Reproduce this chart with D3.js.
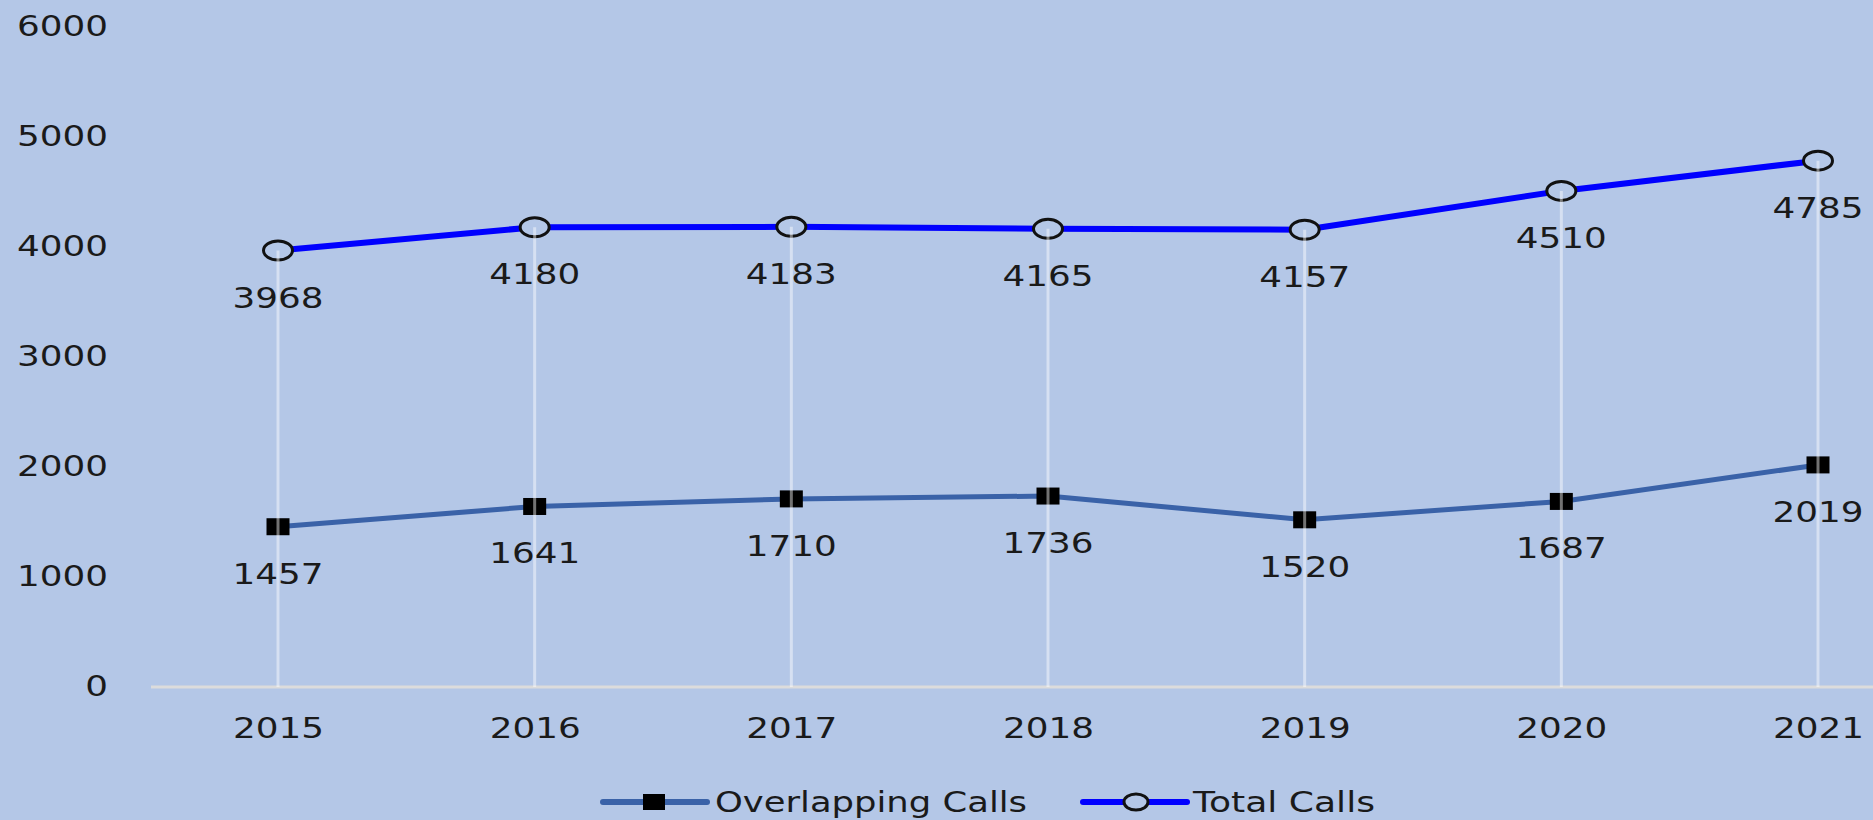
<!DOCTYPE html>
<html>
<head>
<meta charset="utf-8">
<script src="https://cdn.jsdelivr.net/npm/d3@7"></script>
<style>
  html, body { margin: 0; padding: 0; background: #b4c7e7; }
  svg { display: block; }
</style>
</head>
<body>
<div id="chart"></div>
<script>
// data
var years = ['2015', '2016', '2017', '2018', '2019', '2020', '2021'];
var overlappingCalls = [1457, 1641, 1710, 1736, 1520, 1687, 2019];
var totalCalls = [3968, 4180, 4183, 4165, 4157, 4510, 4785];
var yTicks = [0, 1000, 2000, 3000, 4000, 5000, 6000];
var seriesNames = ['Overlapping Calls', 'Total Calls'];

var W = 1873, H = 820;
var bg = '#b4c7e7';
var colOverlap = '#3a62a8', colTotal = '#0000ff';
var charW = 22.75; // stretched digits in the source picture

var svg = d3.select('#chart').append('svg')
  .attr('width', W)
  .attr('height', H)
  .style('background', bg);

var x = d3.scalePoint().domain(years).range([278, 1818]);
var y = d3.scaleLinear().domain([0, 6000]).range([687, 27]);

// y axis, labels only
var yAxis = svg.append('g')
  .attr('transform', 'translate(151,0)')
  .call(d3.axisLeft(y).tickValues(yTicks).tickFormat(d3.format('d')).tickSize(0).tickPadding(43));
yAxis.select('.domain').remove();
yAxis.selectAll('text')
  .attr('font-family', 'DejaVu Sans')
  .attr('font-size', 28)
  .attr('fill', '#1a1a1a')
  .attr('textLength', function(d) { return String(d).length * charW; })
  .attr('lengthAdjust', 'spacingAndGlyphs');

// x axis
var xAxis = svg.append('g')
  .attr('transform', 'translate(0,' + y(0) + ')')
  .call(d3.axisBottom(x).tickSize(0).tickPadding(31));
xAxis.select('.domain').remove();
xAxis.selectAll('text')
  .attr('font-family', 'DejaVu Sans')
  .attr('font-size', 28)
  .attr('fill', '#1a1a1a')
  .attr('textLength', function(d) { return d.length * charW; })
  .attr('lengthAdjust', 'spacingAndGlyphs');

svg.append('line')
  .attr('x1', 151).attr('x2', W)
  .attr('y1', y(0)).attr('y2', y(0))
  .attr('stroke', '#dcdcdc')
  .attr('stroke-width', 3);

// lines
var line = d3.line()
  .x(function(d, i) { return x(years[i]); })
  .y(function(d) { return y(d); });

svg.append('path')
  .datum(overlappingCalls)
  .attr('d', line)
  .attr('fill', 'none')
  .attr('stroke', colOverlap)
  .attr('stroke-width', 5)
  .attr('stroke-linejoin', 'round');

svg.append('path')
  .datum(totalCalls)
  .attr('d', line)
  .attr('fill', 'none')
  .attr('stroke', colTotal)
  .attr('stroke-width', 6)
  .attr('stroke-linejoin', 'round');

// markers
svg.selectAll('.sq')
  .data(overlappingCalls)
  .enter().append('rect')
  .attr('class', 'sq')
  .attr('x', function(d, i) { return x(years[i]) - 11.5; })
  .attr('y', function(d) { return y(d) - 8.5; })
  .attr('width', 23)
  .attr('height', 17)
  .attr('fill', '#000');

svg.selectAll('.circ')
  .data(totalCalls)
  .enter().append('ellipse')
  .attr('class', 'circ')
  .attr('cx', function(d, i) { return x(years[i]); })
  .attr('cy', function(d) { return y(d); })
  .attr('rx', 14.5)
  .attr('ry', 9.5)
  .attr('fill', bg)
  .attr('stroke', '#111')
  .attr('stroke-width', 3);

// drop lines from the top series down to the axis
svg.selectAll('.drop')
  .data(totalCalls)
  .enter().append('line')
  .attr('class', 'drop')
  .attr('x1', function(d, i) { return x(years[i]); })
  .attr('x2', function(d, i) { return x(years[i]); })
  .attr('y1', function(d) { return y(d); })
  .attr('y2', y(0))
  .attr('stroke', '#ffffff')
  .attr('stroke-opacity', 0.45)
  .attr('stroke-width', 3);

// data labels below points
function labels(data, cls) {
  svg.selectAll('.' + cls)
    .data(data)
    .enter().append('text')
    .attr('class', cls)
    .attr('x', function(d, i) { return x(years[i]); })
    .attr('y', function(d) { return y(d) + 57; })
    .attr('text-anchor', 'middle')
    .attr('font-family', 'DejaVu Sans')
    .attr('font-size', 29)
    .attr('fill', '#1a1a1a')
    .attr('textLength', function(d) { return String(d).length * charW; })
    .attr('lengthAdjust', 'spacingAndGlyphs')
    .text(function(d) { return d; });
}
labels(overlappingCalls, 'lblO');
labels(totalCalls, 'lblT');

// legend
var leg = svg.append('g');
leg.append('line')
  .attr('x1', 603).attr('x2', 707).attr('y1', 802).attr('y2', 802)
  .attr('stroke', colOverlap).attr('stroke-width', 6).attr('stroke-linecap', 'round');
leg.append('rect')
  .attr('x', 643).attr('y', 794).attr('width', 22).attr('height', 16)
  .attr('fill', '#000');
leg.append('text')
  .attr('x', 715).attr('y', 812)
  .attr('font-family', 'DejaVu Sans')
  .attr('font-size', 28)
  .attr('fill', '#1a1a1a')
  .attr('textLength', 312)
  .attr('lengthAdjust', 'spacingAndGlyphs')
  .text(seriesNames[0]);

leg.append('line')
  .attr('x1', 1083).attr('x2', 1187).attr('y1', 802).attr('y2', 802)
  .attr('stroke', colTotal).attr('stroke-width', 6).attr('stroke-linecap', 'round');
leg.append('ellipse')
  .attr('cx', 1136).attr('cy', 802).attr('rx', 12).attr('ry', 8)
  .attr('fill', bg).attr('stroke', '#111').attr('stroke-width', 3);
leg.append('text')
  .attr('x', 1193).attr('y', 812)
  .attr('font-family', 'DejaVu Sans')
  .attr('font-size', 28)
  .attr('fill', '#1a1a1a')
  .attr('textLength', 182)
  .attr('lengthAdjust', 'spacingAndGlyphs')
  .text(seriesNames[1]);
</script>
</body>
</html>
